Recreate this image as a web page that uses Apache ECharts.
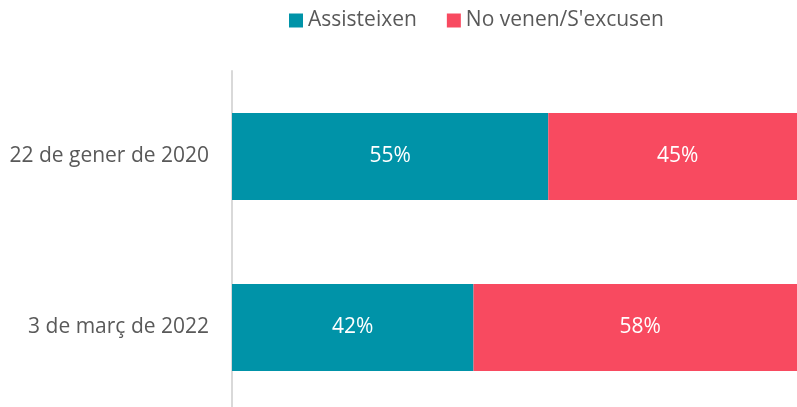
<!DOCTYPE html>
<html>
<head>
<meta charset="utf-8">
<script src="https://cdn.jsdelivr.net/npm/echarts@6/dist/echarts.min.js"></script>
<style>
html, body { margin: 0; padding: 0; background: #fff; }
#main { width: 797px; height: 407px; }
</style>
</head>
<body>
<div id="main"></div>
<script>
var categories = ['22 de gener de 2020', '3 de març de 2022'];
var seriesNames = ['Assisteixen', 'No venen/S\'excusen'];
var assisteixen = [55, 42];
var noVenen = [45, 58];

var fontName = 'Open Sans';
var myChart = echarts.init(document.getElementById('main'));

var option = {
    animation: false,
    textStyle: { fontFamily: fontName },
    legend: {
        data: seriesNames,
        top: 5,
        left: 284,
        itemWidth: 14,
        itemHeight: 14,
        itemGap: 30,
        icon: 'rect',
        textStyle: { fontSize: 21, color: '#595959', fontFamily: fontName }
    },
    grid: {
        left: 232,
        width: 575,
        top: 71,
        height: 342,
        containLabel: false,
        outerBoundsMode: 'none'
    },
    xAxis: {
        type: 'value',
        min: 0,
        max: 100,
        show: false
    },
    yAxis: {
        type: 'category',
        data: categories,
        inverse: true,
        axisLine: { show: true, lineStyle: { color: '#d9d9d9', width: 2 } },
        axisTick: { show: false },
        axisLabel: { fontSize: 21, color: '#595959', margin: 23, fontFamily: fontName },
        splitLine: { show: false }
    },
    series: [
        {
            name: seriesNames[0],
            type: 'bar',
            stack: 'total',
            barWidth: 87,
            itemStyle: { color: '#0093A8' },
            label: {
                show: true,
                position: 'inside',
                color: '#fff',
                fontSize: 21,
                fontFamily: fontName,
                formatter: '{c}%'
            },
            data: assisteixen
        },
        {
            name: seriesNames[1],
            type: 'bar',
            stack: 'total',
            barWidth: 87,
            itemStyle: { color: '#F84A60' },
            label: {
                show: true,
                position: 'inside',
                color: '#fff',
                fontSize: 21,
                fontFamily: fontName,
                formatter: '{c}%'
            },
            data: noVenen
        }
    ]
};
myChart.setOption(option);
</script>
</body>
</html>
